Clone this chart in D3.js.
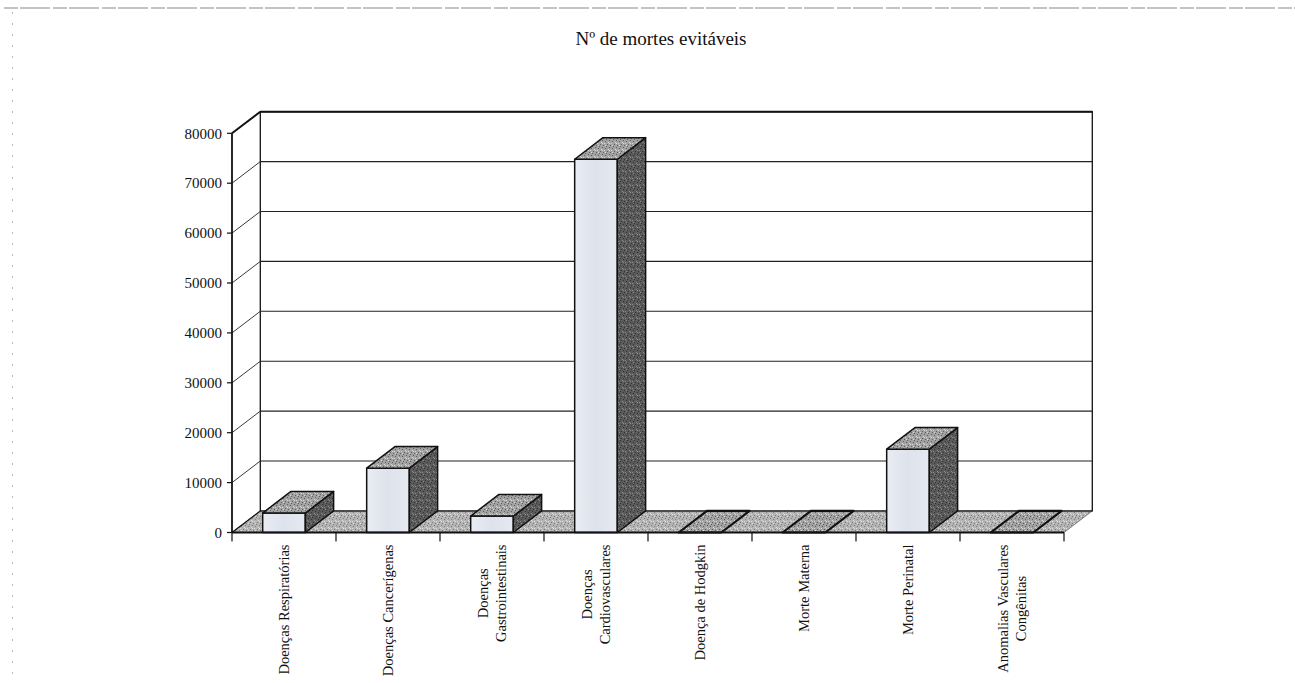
<!DOCTYPE html>
<html>
<head>
<meta charset="utf-8">
<script src="https://cdn.jsdelivr.net/npm/d3@7"></script>
<style>
  body { margin: 0; background: #fff; }
  svg { display: block; }
  text { font-family: "Liberation Serif", "Times New Roman", serif; fill: #111; }
</style>
</head>
<body>
<div id="chart"></div>
<script>
// dados (aprox.)
const categories = [
    ['Doenças Respiratórias'],
    ['Doenças Cancerígenas'],
    ['Doenças', 'Gastrointestinais'],
    ['Doenças', 'Cardiovasculares'],
    ['Doença de Hodgkin'],
    ['Morte Materna'],
    ['Morte Perinatal'],
    ['Anomalias Vasculares', 'Congênitas']
];
const values = [3900, 12900, 3300, 74800, 0, 0, 16700, 0];
const yTicks = [0, 10000, 20000, 30000, 40000, 50000, 60000, 70000, 80000];
const title = 'Nº de mortes evitáveis';

const W = 1295, H = 683;
const plot = { left: 232, right: 1064, top: 133.3, bottom: 532.5 };
const depth = { dx: 28.3, dy: -21.6 };

const svg = d3.select('#chart').append('svg')
    .attr('width', W).attr('height', H);

// texturas "digitalizadas"
const defs = svg.append('defs');
function stipple(id, base, dark, light) {
    const p = defs.append('pattern').attr('id', id)
        .attr('width', 7).attr('height', 7).attr('patternUnits', 'userSpaceOnUse');
    p.append('rect').attr('width', 7).attr('height', 7).attr('fill', base);
    [[0, 0], [3, 1], [5, 4], [1, 5], [4, 6]].forEach(d =>
        p.append('rect').attr('x', d[0]).attr('y', d[1]).attr('width', 1).attr('height', 1).attr('fill', dark));
    [[2, 3], [6, 2], [0, 3], [3, 5]].forEach(d =>
        p.append('rect').attr('x', d[0]).attr('y', d[1]).attr('width', 1).attr('height', 1).attr('fill', light));
}
stipple('floorTex', '#b4b4b4', '#7c7c7c', '#dedede');
stipple('topTex', '#a2a2a2', '#5e5e5e', '#d8d8d8');
stipple('sideTex', '#5a5a5a', '#333', '#8a8a8a');
const grad = defs.append('linearGradient').attr('id', 'frontGrad')
    .attr('x1', 0).attr('x2', 1).attr('y1', 0).attr('y2', 0);
grad.append('stop').attr('offset', 0).attr('stop-color', '#e9ecf3');
grad.append('stop').attr('offset', 0.5).attr('stop-color', '#dde2ec');
grad.append('stop').attr('offset', 1).attr('stop-color', '#e6e9f0');

// bordas da página digitalizada
svg.append('line').attr('x1', 4).attr('x2', W).attr('y1', 8).attr('y2', 8)
    .attr('stroke', '#888').attr('stroke-width', 1.2).attr('stroke-dasharray', '14,2,30,3');
svg.append('line').attr('x1', 12.5).attr('x2', 12.5).attr('y1', 12).attr('y2', H)
    .attr('stroke', '#bbb').attr('stroke-width', 1).attr('stroke-dasharray', '2,9');

const y = d3.scaleLinear().domain([0, 80000]).range([plot.bottom, plot.top]);
const x = d3.scaleBand().domain(d3.range(categories.length)).range([plot.left, plot.right]).padding(0);
const bw = x.bandwidth() * 0.41;

const { dx, dy } = depth;
const poly = pts => 'M' + pts.map(p => p.join(',')).join('L') + 'Z';

// chão
svg.append('path')
    .attr('d', poly([[plot.left, y(0)], [plot.right, y(0)], [plot.right + dx, y(0) + dy], [plot.left + dx, y(0) + dy]]))
    .attr('fill', 'url(#floorTex)').attr('stroke', '#666').attr('stroke-width', 0.8);

// parede do fundo
svg.append('rect')
    .attr('x', plot.left + dx).attr('y', y(80000) + dy)
    .attr('width', plot.right - plot.left).attr('height', y(0) - y(80000))
    .attr('fill', '#fff').attr('stroke', '#111').attr('stroke-width', 1.3);

// grelha: diagonal na parede lateral + horizontal no fundo
const grid = svg.append('g').attr('stroke', '#222');
yTicks.filter(v => v > 0 && v < 80000).forEach(v => {
    grid.append('line')
        .attr('x1', plot.left).attr('y1', y(v))
        .attr('x2', plot.left + dx).attr('y2', y(v) + dy).attr('stroke-width', 0.9);
    grid.append('line')
        .attr('x1', plot.left + dx).attr('y1', y(v) + dy)
        .attr('x2', plot.right + dx).attr('y2', y(v) + dy).attr('stroke-width', 1.1);
});
// arestas da parede lateral e topo
svg.append('line').attr('x1', plot.left).attr('y1', y(80000))
    .attr('x2', plot.left + dx).attr('y2', y(80000) + dy)
    .attr('stroke', '#111').attr('stroke-width', 2);
svg.append('line').attr('x1', plot.left).attr('y1', y(0))
    .attr('x2', plot.left + dx).attr('y2', y(0) + dy)
    .attr('stroke', '#111').attr('stroke-width', 1.2);
svg.append('line').attr('x1', plot.left + dx).attr('y1', y(80000) + dy)
    .attr('x2', plot.right + dx).attr('y2', y(80000) + dy)
    .attr('stroke', '#111').attr('stroke-width', 2);

// barras 3D
const bars = svg.append('g');
values.forEach((v, i) => {
    const bx = x(i) + (x.bandwidth() - bw) / 2;
    const yt = y(v), yb = y(0);
    const g = bars.append('g').attr('stroke', '#111').attr('stroke-linejoin', 'round');
    if (v > 0) {
        g.append('rect').attr('x', bx).attr('y', yt).attr('width', bw).attr('height', yb - yt)
            .attr('fill', 'url(#frontGrad)').attr('stroke-width', 1.5);
        g.append('path')
            .attr('d', poly([[bx + bw, yt], [bx + bw + dx, yt + dy], [bx + bw + dx, yb + dy], [bx + bw, yb]]))
            .attr('fill', 'url(#sideTex)').attr('stroke-width', 1.5);
    }
    g.append('path')
        .attr('d', poly([[bx, yt], [bx + bw, yt], [bx + bw + dx, yt + dy], [bx + dx, yt + dy]]))
        .attr('fill', 'url(#topTex)').attr('stroke-width', v > 0 ? 1.5 : 2.2);
});

// eixo Y
const yAxis = svg.append('g');
yAxis.append('line').attr('x1', plot.left).attr('x2', plot.left)
    .attr('y1', y(0)).attr('y2', y(80000)).attr('stroke', '#111').attr('stroke-width', 1.8);
yTicks.forEach(v => {
    yAxis.append('line').attr('x1', plot.left - 5).attr('x2', plot.left)
        .attr('y1', y(v)).attr('y2', y(v)).attr('stroke', '#111').attr('stroke-width', 1.2);
    yAxis.append('text').attr('x', plot.left - 10).attr('y', y(v)).attr('dy', '0.35em')
        .attr('text-anchor', 'end').style('font-size', '15px').text(v);
});

// eixo X
const xAxis = svg.append('g');
xAxis.append('line').attr('x1', plot.left).attr('x2', plot.right)
    .attr('y1', y(0)).attr('y2', y(0)).attr('stroke', '#111').attr('stroke-width', 1.8);
d3.range(categories.length + 1).forEach(i => {
    const tx = plot.left + i * x.step();
    xAxis.append('line').attr('x1', tx).attr('x2', tx)
        .attr('y1', y(0)).attr('y2', y(0) + 9).attr('stroke', '#111').attr('stroke-width', 1.2);
});

const labelTop = y(0) + 12;
const lineGap = 18.4;
categories.forEach((lines, i) => {
    const cx = x(i) + x.bandwidth() / 2;
    const g = xAxis.append('g');
    const texts = lines.map(t => g.append('text')
        .style('font-size', '14.5px').attr('text-anchor', 'middle').attr('dy', '0.35em').text(t));
    const maxLen = d3.max(texts, t => t.node().getComputedTextLength());
    const cy = labelTop + maxLen / 2;
    texts.forEach((t, k) => {
        const lx = cx + (k - (lines.length - 1) / 2) * lineGap;
        t.attr('transform', `translate(${lx},${cy}) rotate(-90)`);
    });
});

// título
svg.append('text').attr('x', 661).attr('y', 45).attr('text-anchor', 'middle')
    .style('font-size', '19px').text(title);
</script>
</body>
</html>
